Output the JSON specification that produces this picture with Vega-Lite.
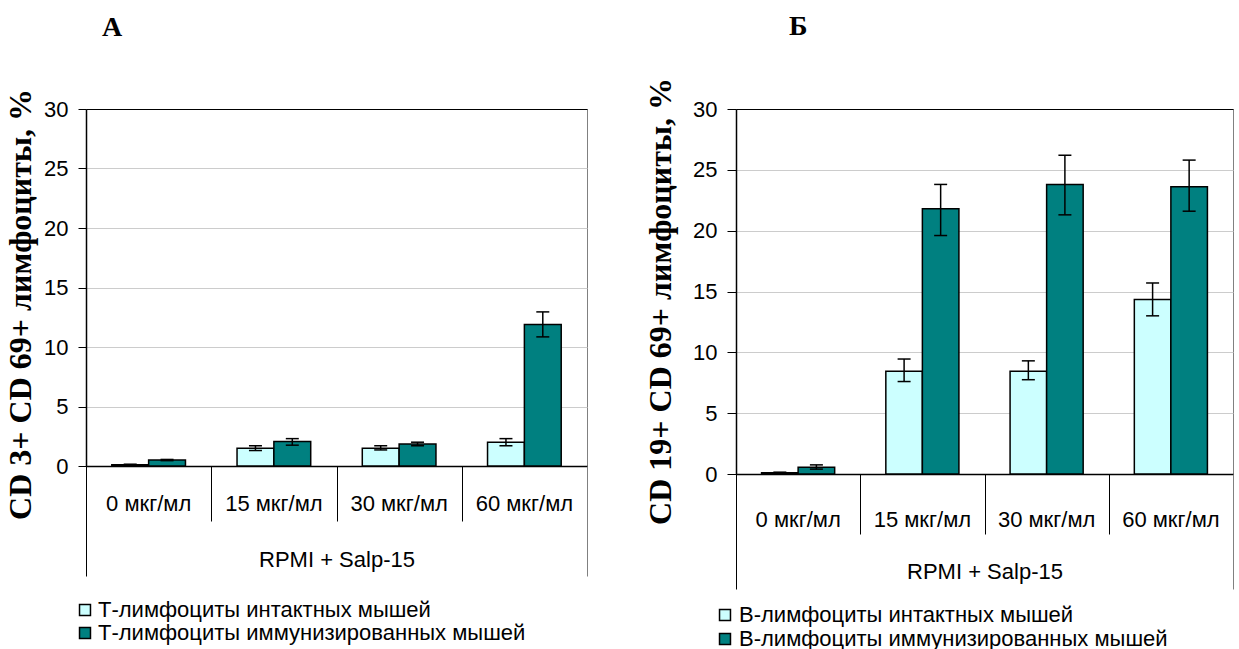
{
  "$schema": "https://vega.github.io/schema/vega-lite/v6.json",
  "background": "white",
  "padding": {"left": 4, "top": 12, "right": 0, "bottom": 0},
  "spacing": 56,
  "datasets": {
    "tcells": [
      {"dose": "0 мкг/мл", "group": "Т-лимфоциты интактных мышей", "value": 0.1, "lo": 0.05, "hi": 0.15},
      {"dose": "0 мкг/мл", "group": "Т-лимфоциты иммунизированных мышей", "value": 0.5, "lo": 0.45, "hi": 0.55},
      {"dose": "15 мкг/мл", "group": "Т-лимфоциты интактных мышей", "value": 1.5, "lo": 1.3, "hi": 1.7},
      {"dose": "15 мкг/мл", "group": "Т-лимфоциты иммунизированных мышей", "value": 2.05, "lo": 1.75, "hi": 2.3},
      {"dose": "30 мкг/мл", "group": "Т-лимфоциты интактных мышей", "value": 1.5, "lo": 1.35, "hi": 1.7},
      {"dose": "30 мкг/мл", "group": "Т-лимфоциты иммунизированных мышей", "value": 1.85, "lo": 1.7, "hi": 2.0},
      {"dose": "60 мкг/мл", "group": "Т-лимфоциты интактных мышей", "value": 2.0, "lo": 1.7, "hi": 2.3},
      {"dose": "60 мкг/мл", "group": "Т-лимфоциты иммунизированных мышей", "value": 11.9, "lo": 10.85, "hi": 12.95}
    ],
    "bcells": [
      {"dose": "0 мкг/мл", "group": "В-лимфоциты интактных мышей", "value": 0.1, "lo": 0.05, "hi": 0.15},
      {"dose": "0 мкг/мл", "group": "В-лимфоциты иммунизированных мышей", "value": 0.55, "lo": 0.4, "hi": 0.75},
      {"dose": "15 мкг/мл", "group": "В-лимфоциты интактных мышей", "value": 8.45, "lo": 7.6, "hi": 9.45},
      {"dose": "15 мкг/мл", "group": "В-лимфоциты иммунизированных мышей", "value": 21.8, "lo": 19.6, "hi": 23.8},
      {"dose": "30 мкг/мл", "group": "В-лимфоциты интактных мышей", "value": 8.45, "lo": 7.75, "hi": 9.3},
      {"dose": "30 мкг/мл", "group": "В-лимфоциты иммунизированных мышей", "value": 23.8, "lo": 21.3, "hi": 26.2},
      {"dose": "60 мкг/мл", "group": "В-лимфоциты интактных мышей", "value": 14.35, "lo": 13.0, "hi": 15.7},
      {"dose": "60 мкг/мл", "group": "В-лимфоциты иммунизированных мышей", "value": 23.6, "lo": 21.6, "hi": 25.8}
    ]
  },
  "config": {
    "font": "Liberation Sans",
    "view": {"stroke": "#808080", "strokeWidth": 1},
    "axis": {"labelFont": "Liberation Sans", "labelFontSize": 22, "labelColor": "black", "titleColor": "black"},
    "axisY": {"titleFont": "Liberation Serif", "titleFontSize": 32, "titleFontWeight": "bold",
      "grid": true, "gridColor": {"condition": {"test": "datum.value === 30", "value": "black"}, "value": "#cccccc"}, "gridWidth": 1.2,
      "tickColor": "black", "domainColor": "black", "domainWidth": 1.5, "labelPadding": 10},
    "title": {"font": "Liberation Serif", "fontSize": 28, "fontWeight": "bold", "color": "black", "anchor": "start", "frame": "group", "baseline": "alphabetic"}
  },
  "resolve": {"scale": {"color": "independent", "x": "independent", "y": "independent", "xOffset": "independent"}},
  "hconcat": [
    {
      "title": {"text": "А", "dx": 16, "offset": 47},
      "width": 501,
      "height": 357,
      "data": {"name": "tcells"},
      "encoding": {
        "xOffset": {"field": "group", "type": "nominal", "sort": null, "scale": {"paddingInner": 0, "paddingOuter": 0.7}}
      },
      "layer": [
        {
          "mark": {"type": "bar", "stroke": "black", "strokeWidth": 1.5},
          "encoding": {
            "x": {"field": "dose", "type": "nominal", "sort": null, "scale": {"paddingInner": 0, "paddingOuter": 0},
              "axis": {"orient": "bottom", "ticks": false, "grid": false, "labelAngle": 0, "labelPadding": 27, "domainColor": "black", "domainWidth": 1.5,
                "title": "RPMI + Salp-15", "titleFont": "Liberation Sans", "titleFontSize": 22, "titleFontWeight": "normal", "titleY": 93, "titleBaseline": "middle"}},
            "y": {"field": "value", "type": "quantitative", "scale": {"domain": [0, 30], "nice": false},
              "axis": {"values": [0, 5, 10, 15, 20, 25, 30], "title": "CD 3+ CD 69+ лимфоциты, %", "titlePadding": 6, "titleY": 195, "tickSize": 8}},
            "color": {"field": "group", "type": "nominal", "sort": null, "scale": {"range": ["#ccffff", "#008080"]},
              "legend": {"orient": "none", "legendX": -12, "legendY": 490, "title": null, "direction": "vertical", "symbolType": "square", "symbolSize": 120, "symbolStrokeColor": "black", "symbolStrokeWidth": 1.5, "symbolOpacity": 1, "labelFont": "Liberation Sans", "labelFontSize": 22, "labelColor": "black", "labelOffset": 2, "rowPadding": 1, "labelLimit": 600}}
          }
        },
        {
          "mark": {"type": "rule", "color": "black", "strokeWidth": 1.5},
          "encoding": {
            "x": {"field": "dose", "type": "nominal", "sort": null,
              "axis": {"orient": "bottom", "title": null, "labels": false, "domain": false, "grid": false, "ticks": true, "tickBand": "extent", "tickSize": 55, "tickColor": "black", "tickWidth": 1}},
            "y": {"field": "lo", "type": "quantitative", "axis": {"values": [0, 5, 10, 15, 20, 25, 30], "title": "CD 3+ CD 69+ лимфоциты, %", "titlePadding": 6, "titleY": 195, "tickSize": 8}},
            "y2": {"field": "hi"}
          }
        },
        {
          "mark": {"type": "tick", "color": "black", "thickness": 1.5, "size": 13, "opacity": 1},
          "encoding": {
            "x": {"field": "dose", "type": "nominal", "sort": null,
              "axis": {"orient": "bottom", "title": null, "labels": false, "domain": false, "grid": false, "values": ["0 мкг/мл"], "bandPosition": 0, "tickSize": 110, "tickColor": "black", "tickWidth": 1}},
            "y": {"field": "hi", "type": "quantitative", "axis": {"values": [0, 5, 10, 15, 20, 25, 30], "title": "CD 3+ CD 69+ лимфоциты, %", "titlePadding": 6, "titleY": 195, "tickSize": 8}}
          }
        },
        {
          "mark": {"type": "tick", "color": "black", "thickness": 1.5, "size": 13, "opacity": 1},
          "encoding": {
            "x": {"field": "dose", "type": "nominal", "sort": null,
              "axis": {"orient": "bottom", "title": null, "labels": false, "domain": false, "grid": false, "values": ["60 мкг/мл"], "bandPosition": 1, "tickSize": 110, "tickColor": "#808080", "tickWidth": 1}},
            "y": {"field": "lo", "type": "quantitative", "axis": {"values": [0, 5, 10, 15, 20, 25, 30], "title": "CD 3+ CD 69+ лимфоциты, %", "titlePadding": 6, "titleY": 195, "tickSize": 8}}
          }
        }
      ],
      "resolve": {"axis": {"x": "independent"}}
    },
    {
      "title": {"text": "Б", "dx": 53, "offset": 37},
      "width": 497,
      "height": 365,
      "data": {"name": "bcells"},
      "encoding": {
        "xOffset": {"field": "group", "type": "nominal", "sort": null, "scale": {"paddingInner": 0, "paddingOuter": 0.7}}
      },
      "layer": [
        {
          "mark": {"type": "bar", "stroke": "black", "strokeWidth": 1.5},
          "encoding": {
            "x": {"field": "dose", "type": "nominal", "sort": null, "scale": {"paddingInner": 0, "paddingOuter": 0},
              "axis": {"orient": "bottom", "ticks": false, "grid": false, "labelAngle": 0, "labelPadding": 35, "domainColor": "black", "domainWidth": 1.5,
                "title": "RPMI + Salp-15", "titleFont": "Liberation Sans", "titleFontSize": 22, "titleFontWeight": "normal", "titleY": 97, "titleBaseline": "middle"}},
            "y": {"field": "value", "type": "quantitative", "scale": {"domain": [0, 30], "nice": false},
              "axis": {"values": [0, 5, 10, 15, 20, 25, 30], "title": "CD 19+ CD 69+ лимфоциты, %", "titlePadding": 15, "titleY": 192, "tickSize": 9}},
            "color": {"field": "group", "type": "nominal", "sort": null, "scale": {"range": ["#ccffff", "#008080"]},
              "legend": {"orient": "none", "legendX": -22, "legendY": 495, "title": null, "direction": "vertical", "symbolType": "square", "symbolSize": 120, "symbolStrokeColor": "black", "symbolStrokeWidth": 1.5, "symbolOpacity": 1, "labelFont": "Liberation Sans", "labelFontSize": 22, "labelColor": "black", "labelOffset": 3, "rowPadding": 2, "labelLimit": 600}}
          }
        },
        {
          "mark": {"type": "rule", "color": "black", "strokeWidth": 1.5},
          "encoding": {
            "x": {"field": "dose", "type": "nominal", "sort": null,
              "axis": {"orient": "bottom", "title": null, "labels": false, "domain": false, "grid": false, "ticks": true, "tickBand": "extent", "tickSize": 60, "tickColor": "black", "tickWidth": 1}},
            "y": {"field": "lo", "type": "quantitative", "axis": {"values": [0, 5, 10, 15, 20, 25, 30], "title": "CD 19+ CD 69+ лимфоциты, %", "titlePadding": 15, "titleY": 192, "tickSize": 9}},
            "y2": {"field": "hi"}
          }
        },
        {
          "mark": {"type": "tick", "color": "black", "thickness": 1.5, "size": 13, "opacity": 1},
          "encoding": {
            "x": {"field": "dose", "type": "nominal", "sort": null,
              "axis": {"orient": "bottom", "title": null, "labels": false, "domain": false, "grid": false, "values": ["0 мкг/мл"], "bandPosition": 0, "tickSize": 115, "tickColor": "black", "tickWidth": 1}},
            "y": {"field": "hi", "type": "quantitative", "axis": {"values": [0, 5, 10, 15, 20, 25, 30], "title": "CD 19+ CD 69+ лимфоциты, %", "titlePadding": 15, "titleY": 192, "tickSize": 9}}
          }
        },
        {
          "mark": {"type": "tick", "color": "black", "thickness": 1.5, "size": 13, "opacity": 1},
          "encoding": {
            "x": {"field": "dose", "type": "nominal", "sort": null,
              "axis": {"orient": "bottom", "title": null, "labels": false, "domain": false, "grid": false, "values": ["60 мкг/мл"], "bandPosition": 1, "tickSize": 115, "tickColor": "#808080", "tickWidth": 1}},
            "y": {"field": "lo", "type": "quantitative", "axis": {"values": [0, 5, 10, 15, 20, 25, 30], "title": "CD 19+ CD 69+ лимфоциты, %", "titlePadding": 15, "titleY": 192, "tickSize": 9}}
          }
        }
      ],
      "resolve": {"axis": {"x": "independent"}}
    }
  ]
}
